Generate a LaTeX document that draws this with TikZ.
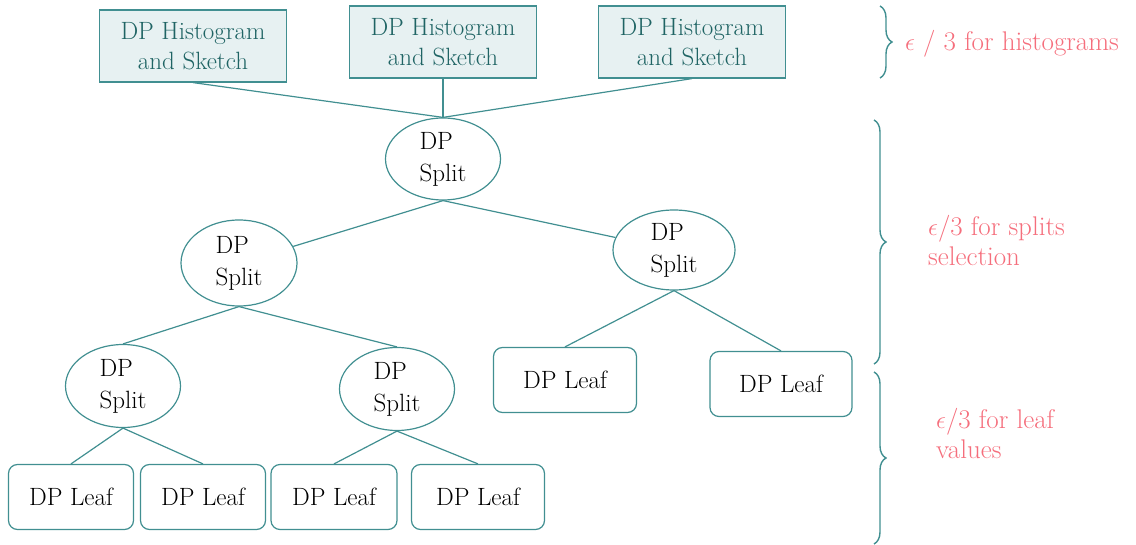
\documentclass[tikz,border=0pt]{standalone}
\usetikzlibrary{shapes.geometric,decorations.pathreplacing}
\definecolor{teal1}{HTML}{418F91}
\definecolor{tealtext}{HTML}{1F6464}
\definecolor{tealfill}{HTML}{E7F1F2}
\definecolor{pinky}{HTML}{F56E7C}
\begin{document}
\begin{tikzpicture}[x=1pt,y=-1pt,
  every node/.style={font=\fontsize{25}{30}\selectfont},
  histbox/.style={draw=teal1,line width=1.2pt,fill=tealfill,text=tealtext,minimum width=187pt,minimum height=72pt,inner sep=0pt,align=center},
  splitnode/.style={draw=teal1,line width=1.2pt,ellipse,inner sep=0pt,align=left,text=black,font=\fontsize{25}{32}\selectfont},
  leafbox/.style={draw=teal1,line width=1.2pt,rounded corners=9pt,minimum height=65pt,inner sep=0pt,text=black},
  conn/.style={draw=teal1,line width=1.2pt},
  bracestyle/.style={draw=teal1,line width=1.4pt,decorate,decoration={brace,amplitude=12pt}},
  lbl/.style={text=pinky,align=left,anchor=west,inner sep=0pt,font=\fontsize{27}{30}\selectfont}
]
\useasboundingbox (0,0) rectangle (1136,545);
% top boxes
\node[histbox] (h1) at (193,46) {DP Histogram\\and Sketch};
\node[histbox] (h2) at (443,42) {DP Histogram\\and Sketch};
\node[histbox] (h3) at (692,42) {DP Histogram\\and Sketch};
% splits
\node[splitnode,minimum width=115pt,minimum height=82pt] (root) at (443,159) {DP\\Split};
\node[splitnode,minimum width=116pt,minimum height=86pt] (ls) at (239,263) {DP\\Split};
\node[splitnode,minimum width=122pt,minimum height=80pt] (rs) at (674,250) {DP\\Split};
\node[splitnode,minimum width=115pt,minimum height=83pt] (lls) at (123,386) {DP\\Split};
\node[splitnode,minimum width=115pt,minimum height=83pt] (lrs) at (397,389) {DP\\Split};
% leaves
\node[leafbox,minimum width=143pt] (r1) at (565,380) {DP Leaf};
\node[leafbox,minimum width=142pt] (r2) at (781,384) {DP Leaf};
\node[leafbox,minimum width=125pt] (b1) at (71,497) {DP Leaf};
\node[leafbox,minimum width=125pt] (b2) at (203,497) {DP Leaf};
\node[leafbox,minimum width=126pt] (b3) at (334,497) {DP Leaf};
\node[leafbox,minimum width=133pt] (b4) at (478,497) {DP Leaf};
% connectors
\draw[conn] (h1.south) -- (root.north);
\draw[conn] (h2.south) -- (root.north);
\draw[conn] (h3.south) -- (root.north);
\draw[conn] (root.south) -- (ls);
\draw[conn] (root.south) -- (rs);
\draw[conn] (ls.south) -- (lls.north);
\draw[conn] (ls.south) -- (lrs.north);
\draw[conn] (rs.south) -- (r1.north);
\draw[conn] (rs.south) -- (r2.north);
\draw[conn] (lls.south) -- (b1.north);
\draw[conn] (lls.south) -- (b2.north);
\draw[conn] (lrs.south) -- (b3.north);
\draw[conn] (lrs.south) -- (b4.north);
% braces
\coordinate (ba1) at (880,6);
\coordinate (bb1) at (880,78);
\coordinate (ba2) at (874,120);
\coordinate (bb2) at (874,364);
\coordinate (ba3) at (874,372);
\coordinate (bb3) at (874,544);
\draw[bracestyle] (ba1) -- (bb1);
\draw[bracestyle] (ba2) -- (bb2);
\draw[bracestyle] (ba3) -- (bb3);
% labels
\node[lbl] (t1) at (905,44) {$\epsilon$ / 3 for histograms};
\node[lbl] (t2) at (928,240) {$\epsilon$/3 for splits\\selection};
\node[lbl] (t3) at (936,433) {$\epsilon$/3 for leaf\\values};
\end{tikzpicture}
\end{document}
